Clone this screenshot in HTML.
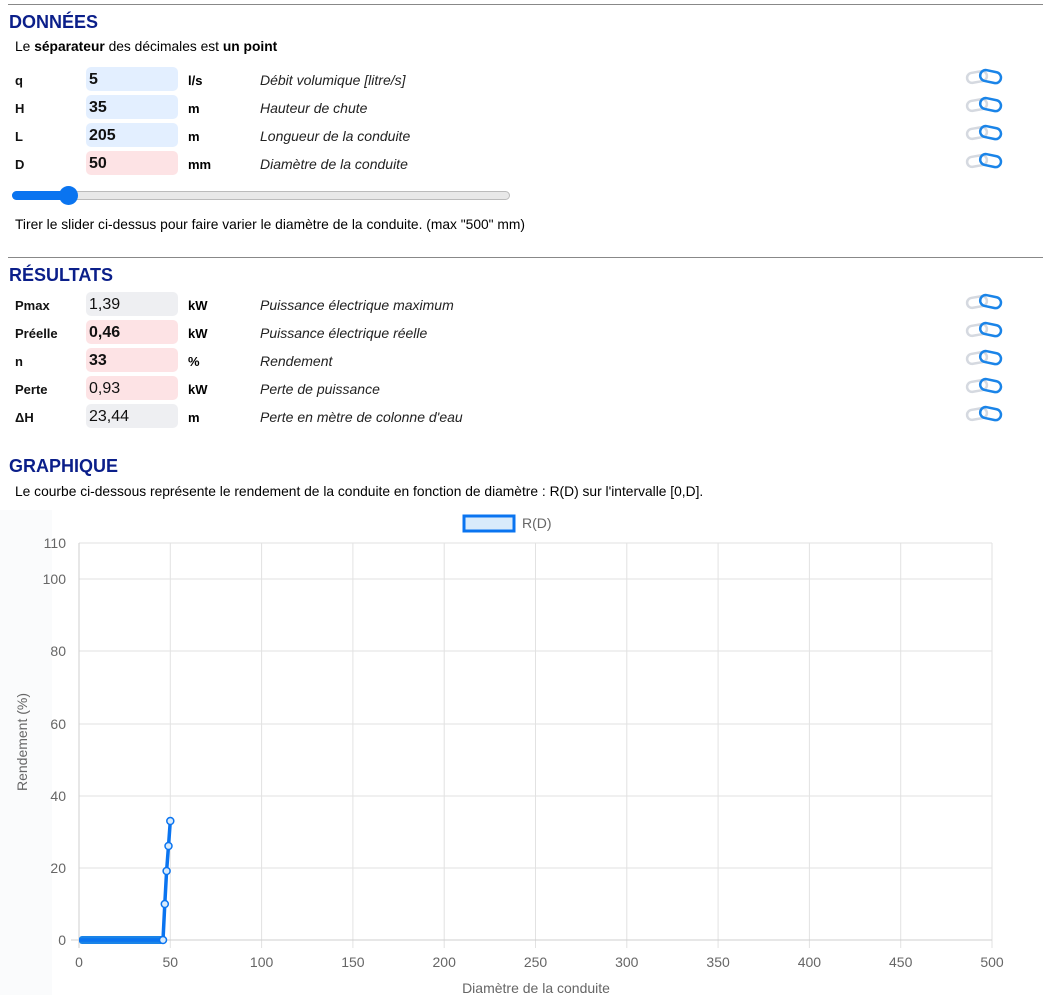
<!DOCTYPE html>
<html><head><meta charset="utf-8"><style>
body{margin:0;width:1043px;height:995px;background:#fff;font-family:"Liberation Sans",sans-serif;position:relative;overflow:hidden}
.a{position:absolute;white-space:nowrap}
.hr{position:absolute;left:8px;width:1035px;height:1px;background:#888}
.h{position:absolute;left:9px;font-weight:bold;font-size:18px;color:#0b1f8a}
.lab{position:absolute;left:15px;font-weight:bold;font-size:13px;color:#111}
.box{position:absolute;left:86px;width:92px;height:24px;border-radius:5px;font-size:16px;padding-left:3px;box-sizing:border-box;line-height:25px;color:#111}
.blue{background:#e3efff}.pink{background:#fde3e5}.gray{background:#eeeff2}
.u{position:absolute;left:188px;font-weight:bold;font-size:13px}
.d{position:absolute;left:260px;font-style:italic;font-size:14px;color:#222}
.t{position:absolute;left:15px;font-size:13.8px}
</style></head><body>
<div class="hr" style="top:4px"></div>
<div class="h" style="top:12px">DONNÉES</div>
<div class="t" style="top:39px">Le <b>séparateur</b> des décimales est <b>un point</b></div>

<div class="lab" style="top:73px">q</div><div class="box blue" style="top:67px"><b>5</b></div><div class="u" style="top:73px">l/s</div><div class="d" style="top:72px">Débit volumique [litre/s]</div>
<div class="lab" style="top:101px">H</div><div class="box blue" style="top:95px"><b>35</b></div><div class="u" style="top:101px">m</div><div class="d" style="top:100px">Hauteur de chute</div>
<div class="lab" style="top:129px">L</div><div class="box blue" style="top:123px"><b>205</b></div><div class="u" style="top:129px">m</div><div class="d" style="top:128px">Longueur de la conduite</div>
<div class="lab" style="top:157px">D</div><div class="box pink" style="top:151px"><b>50</b></div><div class="u" style="top:157px">mm</div><div class="d" style="top:156px">Diamètre de la conduite</div>

<div class="a" style="left:12px;top:191px;width:498px;height:9px;border-radius:5px;background:#e8e8e8;border:1px solid #bbb;box-sizing:border-box"></div>
<div class="a" style="left:12px;top:191px;width:58px;height:9px;border-radius:5px;background:#0a74f0"></div>
<div class="a" style="left:59px;top:186px;width:19px;height:19px;border-radius:50%;background:#0a74f0"></div>
<div class="t" style="top:217px">Tirer le slider ci-dessus pour faire varier le diamètre de la conduite. (max "500" mm)</div>

<div class="hr" style="top:257px"></div>
<div class="h" style="top:265px">RÉSULTATS</div>
<div class="lab" style="top:298px">Pmax</div><div class="box gray" style="top:292px">1,39</div><div class="u" style="top:298px">kW</div><div class="d" style="top:297px">Puissance électrique maximum</div>
<div class="lab" style="top:326px">Préelle</div><div class="box pink" style="top:320px"><b>0,46</b></div><div class="u" style="top:326px">kW</div><div class="d" style="top:325px">Puissance électrique réelle</div>
<div class="lab" style="top:354px">n</div><div class="box pink" style="top:348px"><b>33</b></div><div class="u" style="top:354px">%</div><div class="d" style="top:353px">Rendement</div>
<div class="lab" style="top:382px">Perte</div><div class="box pink" style="top:376px">0,93</div><div class="u" style="top:382px">kW</div><div class="d" style="top:381px">Perte de puissance</div>
<div class="lab" style="top:410px">ΔH</div><div class="box gray" style="top:404px">23,44</div><div class="u" style="top:410px">m</div><div class="d" style="top:409px">Perte en mètre de colonne d'eau</div>

<svg class="a" style="left:0;top:0" width="1043" height="440">
<defs><g id="lk"><rect x="0" y="-5" width="20" height="10" rx="5" fill="none" stroke="#d5d9e0" stroke-width="2.5" transform="rotate(-10 10 0)"/><rect x="13" y="-6" width="21" height="11" rx="5.5" fill="none" stroke="#1a84e8" stroke-width="2.5" transform="rotate(12 23 0)"/></g></defs>
<use href="#lk" x="967" y="77"/><use href="#lk" x="967" y="105"/><use href="#lk" x="967" y="133"/><use href="#lk" x="967" y="161"/>
<use href="#lk" x="967" y="302"/><use href="#lk" x="967" y="330"/><use href="#lk" x="967" y="358"/><use href="#lk" x="967" y="386"/><use href="#lk" x="967" y="414"/>
</svg>

<div class="h" style="top:456px">GRAPHIQUE</div>
<div class="t" style="top:484px">Le courbe ci-dessous représente le rendement de la conduite en fonction de diamètre : R(D) sur l'intervalle [0,D].</div>

<svg class="a" style="left:0;top:0" width="1043" height="995" font-family="Liberation Sans, sans-serif">
<rect x="0" y="510" width="52" height="485" fill="#fafbfc"/>
<g stroke="#e2e2e2" stroke-width="1">
<line x1="79" y1="543" x2="992" y2="543"/><line x1="79" y1="579" x2="992" y2="579"/><line x1="79" y1="651" x2="992" y2="651"/><line x1="79" y1="724" x2="992" y2="724"/><line x1="79" y1="796" x2="992" y2="796"/><line x1="79" y1="868" x2="992" y2="868"/>
<line x1="170.3" y1="543" x2="170.3" y2="948"/><line x1="261.6" y1="543" x2="261.6" y2="948"/><line x1="352.9" y1="543" x2="352.9" y2="948"/><line x1="444.2" y1="543" x2="444.2" y2="948"/><line x1="535.5" y1="543" x2="535.5" y2="948"/><line x1="626.8" y1="543" x2="626.8" y2="948"/><line x1="718.1" y1="543" x2="718.1" y2="948"/><line x1="809.4" y1="543" x2="809.4" y2="948"/><line x1="900.7" y1="543" x2="900.7" y2="948"/><line x1="992" y1="543" x2="992" y2="948"/>
</g>
<g stroke="#cfcfcf"><line x1="79" y1="543" x2="79" y2="948"/><line x1="71" y1="940" x2="992" y2="940"/></g>
<g fill="#666" font-size="14" text-anchor="end">
<text x="66" y="548">110</text><text x="66" y="584">100</text><text x="66" y="656">80</text><text x="66" y="729">60</text><text x="66" y="801">40</text><text x="66" y="873">20</text><text x="66" y="945">0</text></g>
<g fill="#666" font-size="14" text-anchor="middle">
<text x="79" y="967">0</text><text x="170.3" y="967">50</text><text x="261.6" y="967">100</text><text x="352.9" y="967">150</text><text x="444.2" y="967">200</text><text x="535.5" y="967">250</text><text x="626.8" y="967">300</text><text x="718.1" y="967">350</text><text x="809.4" y="967">400</text><text x="900.7" y="967">450</text><text x="992" y="967">500</text>
<text x="536" y="993">Diamètre de la conduite</text></g>
<text transform="translate(27,742) rotate(-90)" fill="#666" font-size="14" text-anchor="middle">Rendement (%)</text>
<rect x="464" y="516" width="50" height="15" fill="#d9ebfb" stroke="#0a74f0" stroke-width="3"/>
<text x="522" y="528" fill="#666" font-size="14">R(D)</text>
<rect x="79" y="936" width="85" height="8" fill="#1a84e8" rx="3"/>
<polyline points="79,940 163,940 164.8,904 166.6,871 168.5,846 170.3,821" fill="none" stroke="#0a74f0" stroke-width="3.5"/>
<g fill="#d9ebfb" stroke="#0a74f0" stroke-width="1.5">
<circle cx="163" cy="940" r="3.5"/><circle cx="164.8" cy="904" r="3.5"/><circle cx="166.6" cy="871" r="3.5"/><circle cx="168.5" cy="846" r="3.5"/><circle cx="170.3" cy="821" r="3.5"/></g>
</svg>
</body></html>
